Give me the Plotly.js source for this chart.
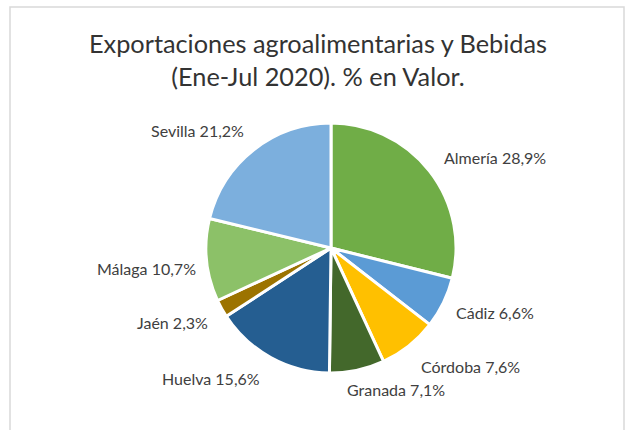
<!DOCTYPE html>
<html>
<head>
<meta charset="utf-8">
<script src="https://cdn.plot.ly/plotly-3.0.1.min.js"></script>
<style>html,body{margin:0;padding:0;background:#fff;}#chart{width:635px;height:430px;}</style>
</head>
<body>
<div id="chart"></div>
<script>
const provinces = ["Almería", "Cádiz", "Córdoba", "Granada", "Huelva", "Jaén", "Málaga", "Sevilla"];
const shares = [28.9, 6.6, 7.6, 7.1, 15.6, 2.3, 10.7, 21.2];
const colors = ["#70AD47", "#5B9BD5", "#FFC000", "#43682B", "#255E91", "#9C7300", "#8CC168", "#7CAFDD"];
// label anchor positions in pixels (x, y) of the 635x430 canvas
const labelPosX = [495, 495, 471, 396, 211, 172, 146, 197];
const labelPosY = [157, 312, 366, 389, 378, 322, 268, 131];

const W = 635, H = 430;
const cx = 331, cy = 248, r = 125;

const fontFam = "Lato, 'Open Sans', sans-serif";

const fmt = v => v.toFixed(1).replace('.', ',') + '%';

const annotations = provinces.map((p, i) => ({
  text: p + ' ' + fmt(shares[i]),
  xref: 'paper', yref: 'paper',
  x: labelPosX[i] / W, y: 1 - labelPosY[i] / H,
  xanchor: 'center', yanchor: 'middle',
  showarrow: false,
  font: {family: fontFam, size: 16, color: '#404040'}
}));

const data = [{
  type: 'pie',
  labels: provinces,
  values: shares,
  sort: false,
  direction: 'clockwise',
  rotation: 0,
  marker: {colors: colors, line: {color: '#ffffff', width: 3}},
  textinfo: 'none',
  hoverinfo: 'label+percent',
  domain: {x: [(cx - r) / W, (cx + r) / W], y: [1 - (cy + r) / H, 1 - (cy - r) / H]}
}];

const layout = {
  width: W, height: H,
  margin: {l: 0, r: 0, t: 0, b: 0},
  paper_bgcolor: '#ffffff',
  showlegend: false,
  separators: ',.',
  title: {
    text: 'Exportaciones agroalimentarias y Bebidas<br>(Ene-Jul 2020). % en Valor.',
    font: {family: fontFam, size: 25.3, color: '#333333'},
    x: 318 / W, xanchor: 'center',
    y: 1 - 53 / H, yanchor: 'middle'
  },
  annotations: annotations,
  shapes: [{
    type: 'rect', xref: 'paper', yref: 'paper',
    x0: 10 / W, x1: 624 / W, y0: -0.01, y1: 1 - 7 / H,
    line: {color: '#d9d9d9', width: 1.5}
  }]
};

Plotly.newPlot('chart', data, layout, {displayModeBar: false, staticPlot: true});
</script>
</body>
</html>
